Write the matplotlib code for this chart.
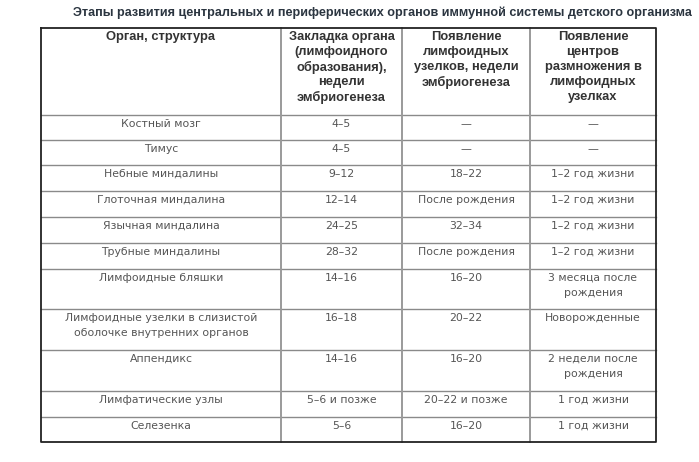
import matplotlib
matplotlib.use("Agg")
import matplotlib.pyplot as plt

title = "Этапы развития центральных и периферических органов иммунной системы детского организма"

headers = [
    "Орган, структура",
    "Закладка органа\n(лимфоидного\nобразования),\nнедели\nэмбриогенеза",
    "Появление\nлимфоидных\nузелков, недели\nэмбриогенеза",
    "Появление\nцентров\nразмножения в\nлимфоидных\nузелках",
]

organs = [
    "Костный мозг", "Тимус", "Небные миндалины", "Глоточная миндалина",
    "Язычная миндалина", "Трубные миндалины", "Лимфоидные бляшки",
    "Лимфоидные узелки в слизистой\nоболочке внутренних органов",
    "Аппендикс", "Лимфатические узлы", "Селезенка",
]
zakladka = ["4–5", "4–5", "9–12", "12–14", "24–25", "28–32", "14–16",
            "16–18", "14–16", "5–6 и позже", "5–6"]
uzelki = ["—", "—", "18–22", "После рождения", "32–34", "После рождения",
          "16–20", "20–22", "16–20", "20–22 и позже", "16–20"]
centers = ["—", "—", "1–2 год жизни", "1–2 год жизни", "1–2 год жизни",
           "1–2 год жизни", "3 месяца после\nрождения", "Новорожденные",
           "2 недели после\nрождения", "1 год жизни", "1 год жизни"]

# layout in pixels
col_x = [41, 281, 402, 530, 656]
row_y = [28, 115, 140, 165, 191, 217, 243, 269, 309, 350, 391, 417, 442]
line_h = 15

fig = plt.figure(figsize=(6.99, 4.62), dpi=100)
ax = fig.add_axes([0, 0, 1, 1])
ax.set_xlim(0, 699)
ax.set_ylim(462, 0)
ax.axis("off")
renderer = fig.canvas.get_renderer()

bold_font = "Liberation Sans"


def fit_size(txt, width_px, **kw):
    # font size that makes txt span width_px
    t = ax.text(0, 0, txt, fontsize=10, **kw)
    w = t.get_window_extent(renderer).width
    t.remove()
    return 10 * width_px / w


tsize = fit_size(title, 620, fontweight="bold", family=bold_font)
ax.text(382, 13, title, ha="center", va="center", fontsize=tsize,
        fontweight="bold", color="#2b3540", family=bold_font)


def cell(x, top, txt, **kw):
    for i, line in enumerate(txt.split("\n")):
        ax.text(x, top + 10 + i * line_h, line, ha="center", va="center", **kw)


hsize = fit_size(headers[0], 109, fontweight="bold", family=bold_font)
centres = [(col_x[i] + col_x[i + 1]) / 2 for i in range(4)]
for c, h in zip(centres, headers):
    cell(c, row_y[0] - 1, h, fontsize=hsize, fontweight="bold",
         color="#333333", family=bold_font)

columns = [organs, zakladka, uzelki, centers]
for j, col in enumerate(columns):
    for i, val in enumerate(col):
        cell(centres[j], row_y[i + 1] - 1, val, fontsize=7.8, color="#555555",
             family="DejaVu Sans")

# grid lines
for y in row_y[1:-1]:
    ax.plot([col_x[0], col_x[-1]], [y, y], color="#8a8a8a", lw=1.0)
for x in col_x[1:-1]:
    ax.plot([x, x], [row_y[0], row_y[-1]], color="#9a9a9a", lw=1.4)
ax.plot([col_x[0], col_x[-1], col_x[-1], col_x[0], col_x[0]],
        [row_y[0], row_y[0], row_y[-1], row_y[-1], row_y[0]],
        color="#222222", lw=1.3)

fig.savefig("out.png", dpi=100)
